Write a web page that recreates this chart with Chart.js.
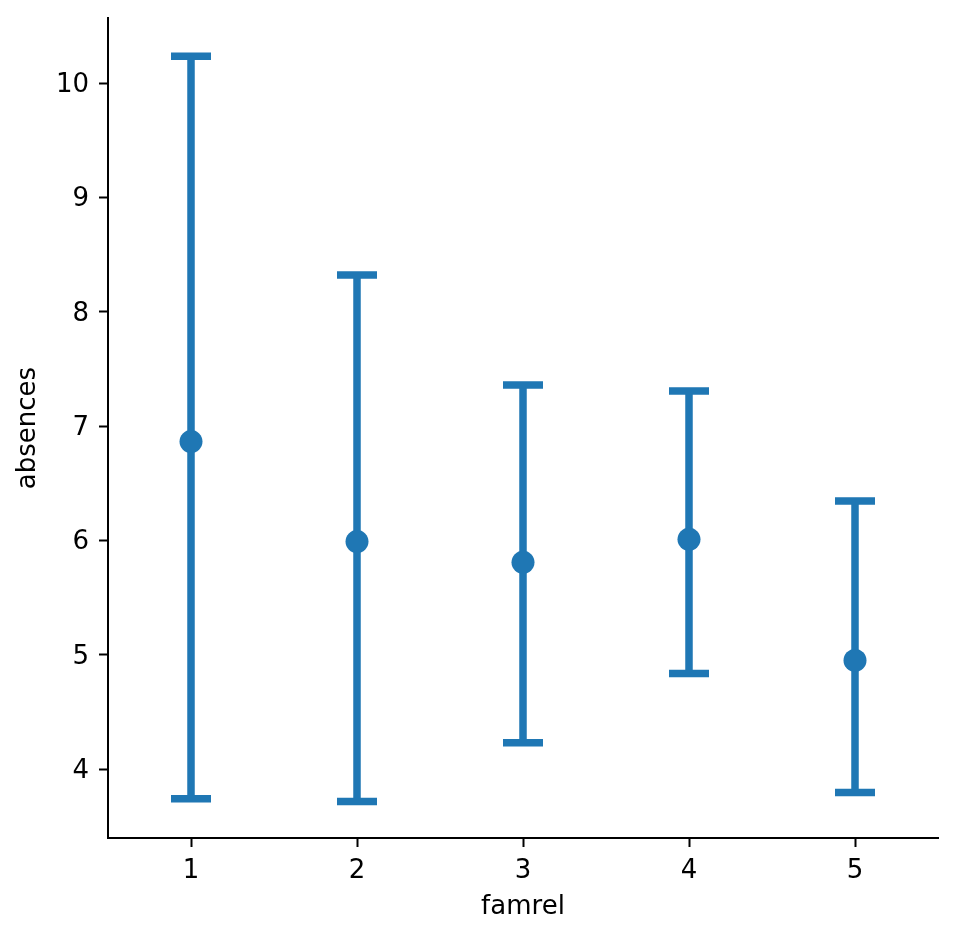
<!DOCTYPE html>
<html>
<head>
<meta charset="utf-8">
<script src="https://cdn.jsdelivr.net/npm/chart.js@4/dist/chart.umd.min.js"></script>
<style>
  html, body { margin: 0; padding: 0; background: #ffffff; }
  #wrap { width: 974px; height: 940px; }
</style>
</head>
<body>
<div id="wrap"><canvas id="c" width="974" height="940"></canvas></div>
<script>
// ---- data ----
const famrel = [1, 2, 3, 4, 5];
const meanAbsences = [6.865, 5.99, 5.809, 6.01, 4.95];
const ciLow = [3.741, 3.717, 4.231, 4.837, 3.796];
const ciHigh = [10.236, 8.322, 7.36, 7.308, 6.346];
const yTicks = [4, 5, 6, 7, 8, 9, 10];

// ---- style ----
const BLUE = '#1f77b4';
const FONT = { family: 'DejaVu Sans', size: 26 };

const errorBarPlugin = {
  id: 'errorBars',
  beforeDatasetsDraw(chart) {
    const ctx = chart.ctx;
    const xs = chart.scales.x, ys = chart.scales.y;
    const capHalf = 20;
    ctx.save();
    ctx.strokeStyle = BLUE;
    ctx.lineWidth = 7.5;
    ctx.lineCap = 'butt';
    for (let i = 0; i < famrel.length; i++) {
      const px = xs.getPixelForValue(famrel[i]);
      const yl = ys.getPixelForValue(ciLow[i]);
      const yh = ys.getPixelForValue(ciHigh[i]);
      ctx.beginPath();
      ctx.moveTo(px, yl);
      ctx.lineTo(px, yh);
      ctx.moveTo(px - capHalf, yl);
      ctx.lineTo(px + capHalf, yl);
      ctx.moveTo(px - capHalf, yh);
      ctx.lineTo(px + capHalf, yh);
      ctx.stroke();
    }
    ctx.restore();
  }
};

new Chart(document.getElementById('c'), {
  type: 'scatter',
  data: {
    datasets: [{
      data: famrel.map((f, i) => ({ x: f, y: meanAbsences[i] })),
      backgroundColor: BLUE,
      borderWidth: 0,
      pointRadius: 11.5,
      pointHoverRadius: 11.5
    }]
  },
  options: {
    responsive: false,
    animation: false,
    layout: { padding: { top: 18, right: 36, left: 0, bottom: 0 } },
    plugins: { legend: { display: false }, tooltip: { enabled: false } },
    scales: {
      x: {
        type: 'linear',
        min: 0.5,
        max: 5.5,
        afterBuildTicks(scale) { scale.ticks = famrel.map(v => ({ value: v })); },
        afterFit(scale) { scale.height = 102; scale.paddingLeft = 0; scale.paddingRight = 0; },
        grid: { display: true, drawOnChartArea: false, drawTicks: true, tickLength: 9, tickWidth: 2, tickColor: '#000' },
        border: { display: true, color: '#000', width: 2 },
        ticks: { color: '#000', font: FONT, padding: 9, callback: v => String(v) },
        title: { display: true, text: 'famrel', color: '#000', font: FONT, padding: { top: 0, bottom: 17 } }
      },
      y: {
        type: 'linear',
        min: 3.397,
        max: 10.571,
        afterBuildTicks(scale) { scale.ticks = yTicks.map(v => ({ value: v })); },
        afterFit(scale) { scale.width = 108; scale.paddingTop = 0; scale.paddingBottom = 0; },
        grid: { display: true, drawOnChartArea: false, drawTicks: true, tickLength: 9, tickWidth: 2, tickColor: '#000' },
        border: { display: true, color: '#000', width: 2 },
        ticks: { color: '#000', font: FONT, padding: 10, labelOffset: 2, callback: v => String(v) },
        title: { display: true, text: 'absences', color: '#000', font: FONT, padding: { top: 13, bottom: 0 } }
      }
    }
  },
  plugins: [errorBarPlugin]
});
</script>
</body>
</html>
